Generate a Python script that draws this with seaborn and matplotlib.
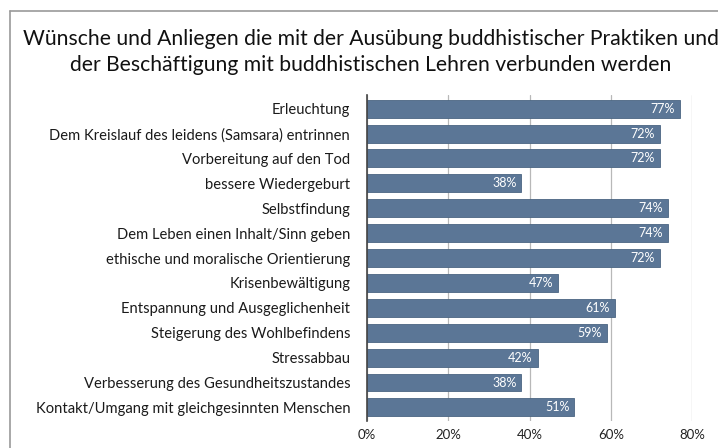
import matplotlib.pyplot as plt
import numpy as np
import pandas as pd
import seaborn as sns
from matplotlib.lines import Line2D

categories = [
    "Erleuchtung",
    "Dem Kreislauf des leidens (Samsara) entrinnen",
    "Vorbereitung auf den Tod",
    "bessere Wiedergeburt",
    "Selbstfindung",
    "Dem Leben einen Inhalt/Sinn geben",
    "ethische und moralische Orientierung",
    "Krisenbewältigung",
    "Entspannung und Ausgeglichenheit",
    "Steigerung des Wohlbefindens",
    "Stressabbau",
    "Verbesserung des Gesundheitszustandes",
    "Kontakt/Umgang mit gleichgesinnten Menschen",
]
values = [77, 72, 72, 38, 74, 74, 72, 47, 61, 59, 42, 38, 51]
xticks = [0, 20, 40, 60, 80]

title = ("Wünsche und Anliegen die mit der Ausübung buddhistischer Praktiken und\n"
         "der Beschäftigung mit buddhistischen Lehren verbunden werden")

sns.set_style("white")
plt.rcParams["font.family"] = ["Lato", "DejaVu Sans"]

df = pd.DataFrame({"cat": categories, "val": values})

fig = plt.figure(figsize=(7.18, 4.48), dpi=100)
ax = fig.add_axes([0.511, 0.06, 0.453, 0.728])

sns.barplot(data=df, x="val", y="cat", color="#5b7696", saturation=1,
            width=0.72, edgecolor="#4a6582", linewidth=0.6, ax=ax, zorder=3)

for i, v in enumerate(values):
    ax.text(v - 1.2, i, f"{v}%", ha="right", va="center",
            color="white", fontsize=9, zorder=4)

ax.set_xlim(0, 80)
ax.set_ylim(12.55, -0.55)
ax.set_xticks(xticks)
ax.set_xticklabels([f"{t}%" for t in xticks], fontsize=9.5, color="#222222")
ax.tick_params(axis="y", labelsize=10.6, colors="#1a1a1a", length=0, pad=12)
ax.tick_params(axis="x", length=0, pad=6)
ax.set_xlabel("")
ax.set_ylabel("")
ax.xaxis.grid(True, color="#b8b8b8", linewidth=0.9, zorder=0)
for s in ["top", "right", "bottom"]:
    ax.spines[s].set_visible(False)
ax.spines["left"].set_color("#444444")
ax.spines["left"].set_linewidth(1.2)
ax.spines["left"].set_zorder(5)

fig.text(0.516, 0.884, title, ha="center", va="center", fontsize=15.2,
         color="#111111", linespacing=1.32)

# slide frame
fig.add_artist(Line2D([0.014, 1.0], [0.976, 0.976], color="#9a9a9a", linewidth=1.2))
fig.add_artist(Line2D([0.014, 0.014], [0.0, 0.976], color="#9a9a9a", linewidth=1.2))

fig.savefig("out.png", dpi=100)
